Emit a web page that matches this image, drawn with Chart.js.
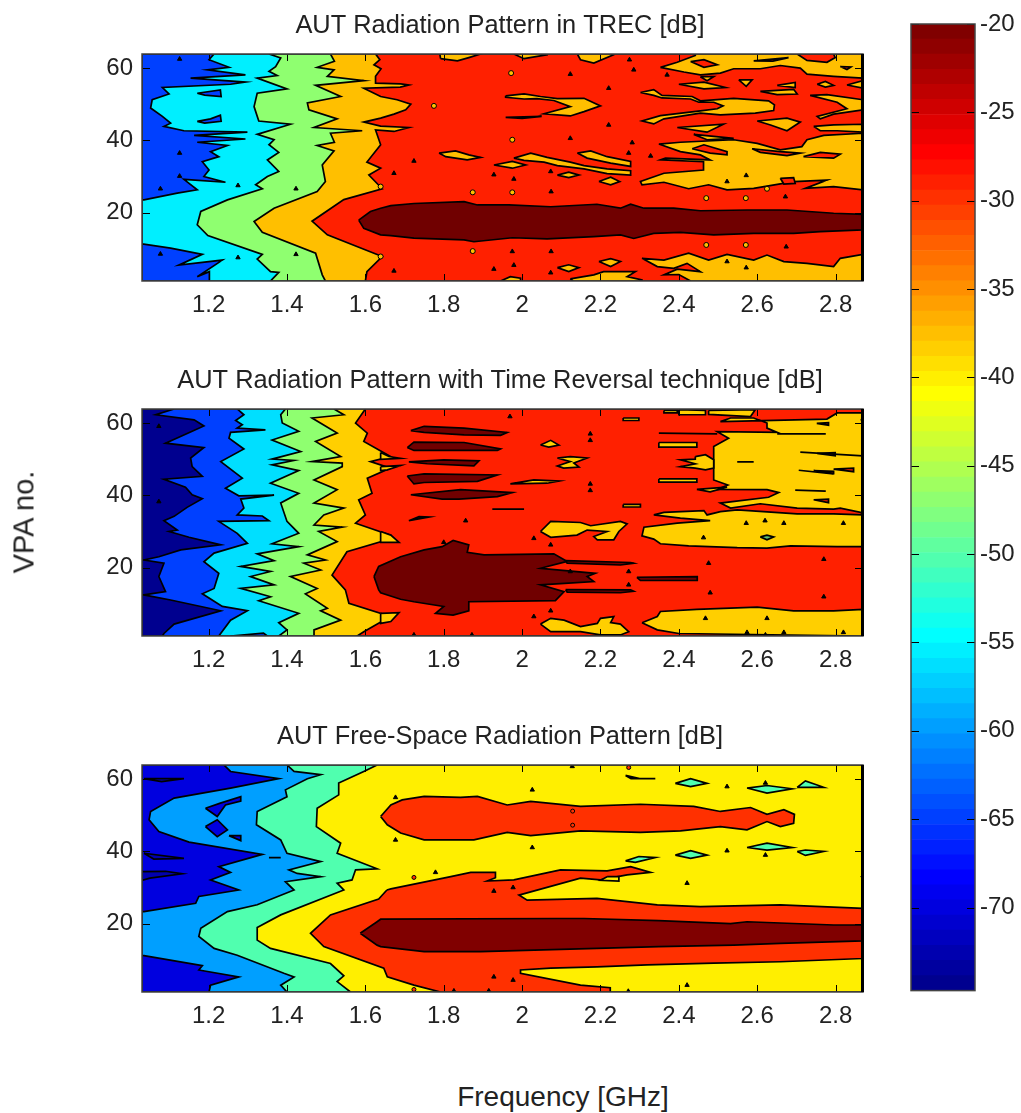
<!DOCTYPE html>
<html>
<head>
<meta charset="utf-8">
<script src="https://cdn.jsdelivr.net/npm/chart.js@4/dist/chart.umd.min.js"></script>
<style>
html,body{margin:0;padding:0;background:#fff;width:1021px;height:1113px;overflow:hidden;}
canvas{position:absolute;}
.lab{position:absolute;font-family:"Liberation Sans",Arial,sans-serif;color:#222;white-space:nowrap;}
</style>
</head>
<body>
<canvas id="c1" style="left:0;top:0"></canvas>
<canvas id="c2" style="left:0;top:355px"></canvas>
<canvas id="c3" style="left:0;top:711px"></canvas>
<canvas id="cbar" style="left:880px;top:0"></canvas>
<div class="lab" style="left:24px;top:522px;font-size:29px;transform:translate(-50%,-50%) rotate(-90deg)">VPA no.</div>
<div class="lab" style="left:563px;top:1097px;font-size:28px;transform:translate(-50%,-50%)">Frequency [GHz]</div>
<script>
var xMin = 1.03, xMax = 2.87, yMin = 1, yMax = 64;
var freqTicks = [1.2,1.4,1.6,1.8,2,2.2,2.4,2.6,2.8];
var vpaTicks = [20,40,60];
var cbarTicks = [-20,-25,-30,-35,-40,-45,-50,-55,-60,-65,-70];
var fullBox = [[1.03,1],[2.87,1],[2.87,64],[1.03,64]];

// colorbar
var cbarLevels = [-74.7,-73.85,-72.99,-72.14,-71.28,-70.43,-69.57,-68.72,-67.86,-67.01,-66.15,-65.3,-64.44,-63.59,-62.73,-61.88,-61.02,-60.17,-59.31,-58.46,-57.6,-56.75,-55.9,-55.04,-54.19,-53.33,-52.48,-51.62,-50.77,-49.91,-49.06,-48.2,-47.35,-46.49,-45.64,-44.78,-43.93,-43.07,-42.22,-41.36,-40.51,-39.65,-38.8,-37.95,-37.09,-36.24,-35.38,-34.53,-33.67,-32.82,-31.96,-31.11,-30.25,-29.4,-28.54,-27.69,-26.83,-25.98,-25.12,-24.27,-23.41,-22.56,-21.7,-20.85,-20];
var jetColors = ["#00008f","#00009f","#0000af","#0000bf","#0000cf","#0000df","#0000ef","#0000ff","#0010ff","#0020ff","#0030ff","#0040ff","#0050ff","#0060ff","#0070ff","#0080ff","#008fff","#009fff","#00afff","#00bfff","#00cfff","#00dfff","#00efff","#00ffff","#10ffef","#20ffdf","#30ffcf","#40ffbf","#50ffaf","#60ff9f","#70ff8f","#80ff80","#8fff70","#9fff60","#afff50","#bfff40","#cfff30","#dfff20","#efff10","#ffff00","#ffef00","#ffdf00","#ffcf00","#ffbf00","#ffaf00","#ff9f00","#ff8f00","#ff8000","#ff7000","#ff6000","#ff5000","#ff4000","#ff3000","#ff2000","#ff1000","#ff0000","#ef0000","#df0000","#cf0000","#bf0000","#af0000","#9f0000","#8f0000","#800000"];

// panel 1, contour edges read from top (VPA 64) to bottom (VPA 1)
var trecEdge1 = [[1.214,64],[1.201,62.4],[1.252,60.3],[1.197,59.6],[1.294,58.2],[1.154,57.3],[1.294,56.2],[1.256,55.6],[1.082,54.7],[1.099,52.9],[1.056,51.3],[1.052,49],[1.082,46.7],[1.103,44.8],[1.086,43.9],[1.137,42.7],[1.299,42.3],[1.163,41.4],[1.294,40.4],[1.171,39.5],[1.248,38.6],[1.205,36.9],[1.226,35.5],[1.184,34.1],[1.201,31.8],[1.188,30],[1.243,28.4],[1.137,29.2],[1.171,26.3],[1.12,25.4],[1.035,23.5],[1.03,23.5],[1.03,11.3],[1.103,10.1],[1.184,8.4],[1.124,5.4],[1.235,6.8],[1.171,2.2],[1.202,3.6],[1.202,1]];
var trecEdge2 = [[1.354,64],[1.384,62.9],[1.371,60.5],[1.354,59.2],[1.375,58],[1.324,57.3],[1.4,54.3],[1.324,53.1],[1.316,49.4],[1.328,45.4],[1.409,44.5],[1.324,41.7],[1.367,40.2],[1.354,38.8],[1.379,36.7],[1.35,34.6],[1.379,31.4],[1.35,30],[1.32,27.7],[1.337,26.6],[1.248,23.5],[1.18,20.3],[1.171,16.6],[1.198,13.6],[1.337,8.4],[1.324,7.1],[1.358,3.6],[1.379,3.4],[1.358,1]];
var trecEdge3 = [[1.511,64],[1.521,62],[1.477,60.3],[1.52,59.6],[1.503,57.8],[1.596,56.6],[1.473,55.3],[1.537,52.2],[1.452,50.4],[1.456,48.5],[1.528,46],[1.469,43.6],[1.592,42.7],[1.511,42],[1.521,39.5],[1.477,38.6],[1.52,37.1],[1.49,33.2],[1.498,28.6],[1.477,25.8],[1.367,21.2],[1.316,17.5],[1.337,14.5],[1.473,8.7],[1.49,2.7],[1.498,1]];
var trecEdge4 = [[1.626,64],[1.637,62.4],[1.622,61],[1.64,59.9],[1.626,57.8],[1.626,55.9],[1.69,55.7],[1.711,55.4],[1.689,54.8],[1.596,54.5],[1.639,52.2],[1.681,51.3],[1.716,50.1],[1.703,48.5],[1.673,47.3],[1.639,46.2],[1.596,45.1],[1.639,44],[1.711,43.6],[1.673,42.5],[1.626,42.9],[1.639,38.8],[1.604,34],[1.639,32.3],[1.609,30.4],[1.643,26.6],[1.545,23.6],[1.464,17.6],[1.503,13.8],[1.643,7.8],[1.604,3.6],[1.6,1]];
var trecBlue1 = [[1.171,53.1],[1.23,54],[1.232,52.2],[1.19,52.6]];
var trecBlue2 = [[1.171,45.3],[1.205,46],[1.23,47],[1.232,45.3],[1.19,44.8]];
var trecAmberTop1 = [[1.792,62.7],[1.835,62.1],[1.864,63],[1.894,64],[1.79,64]];
var trecAmberTop2 = [[1.979,64],[2.005,62.7],[2.064,63.8],[2.064,64]];
var trecAmberTop3 = [[2.141,64],[2.149,62.4],[2.183,61.5],[2.234,63.8],[2.234,64]];
var trecChevron = [[1.958,52.4],[2.005,52.9],[2.047,52.2],[2.09,51.6],[2.158,51.7],[2.2,49.6],[2.158,48],[2.123,46.8],[2.056,47.4],[2.123,49.4],[2.081,51.1],[2.038,51.6],[2.005,51.5],[1.958,52]];
var trecSliver1 = [[1.958,46.4],[2.05,46.7],[2,46.1]];
var trecIsle1 = [[1.788,36.5],[1.83,37.1],[1.864,36],[1.894,35.3],[1.86,34.6],[1.805,35.5]];
var trecIsle2 = [[1.928,33.2],[1.975,34.2],[2.009,33.2],[1.975,32.3]];
var trecStreak1 = [[1.979,35.1],[2.022,36.5],[2.064,35.3],[2.123,34],[2.158,33],[2.217,32.1],[2.277,31.6],[2.277,30.4],[2.217,30.8],[2.158,32.1],[2.09,33],[2.056,34],[2.005,34.5]];
var trecStreak2 = [[2.141,36.5],[2.175,37.1],[2.217,35.5],[2.277,34.2],[2.277,32.8],[2.226,33.7],[2.166,35.1]];
var trecIsle3 = [[2.09,30.4],[2.119,31.2],[2.145,30.4],[2.119,29.7]];
var trecIsle4 = [[2.196,28.6],[2.226,29.8],[2.249,28.6],[2.226,27.7]];
var trecIsle5 = [[2.09,4.7],[2.119,5.5],[2.145,4.7],[2.119,3.6]];
var trecIsle6 = [[2.196,6.4],[2.226,7.2],[2.251,6.4],[2.226,5]];
var trecIsle7 = [[1.945,1],[1.97,2.2],[1.996,1.8],[1.996,1]];
var trecBottomLeft = [[2.123,1.6],[2.183,2.7],[2.208,3.6],[2.289,3.6],[2.268,2.2],[2.306,1.3],[2.306,1],[2.13,1]];
var trecTop = [[2.353,60.3],[2.396,61.7],[2.442,63.6],[2.442,64],[2.87,64],[2.87,57.3],[2.795,57.8],[2.727,58.4],[2.71,60.1],[2.659,60.8],[2.608,59.9],[2.54,59.9],[2.506,58.7],[2.455,58.2],[2.413,59]];
var trecHole1 = [[2.702,64],[2.727,62.2],[2.778,61.7],[2.799,63],[2.795,64]];
var trecHole2 = [[2.43,61.9],[2.464,62.4],[2.498,61],[2.464,60.3]];
var trecHole3 = [[2.812,60.5],[2.839,60.4],[2.829,59.7]];
var trecHole4 = [[2.591,62.1],[2.68,63],[2.64,62]];
var trecStrip1 = [[2.4,55.6],[2.464,56.2],[2.519,54.7],[2.464,54.3]];
var trecStrip2 = [[2.455,57.7],[2.489,57.7],[2.472,56.6]];
var trecStrip3 = [[2.553,56.8],[2.587,56.8],[2.572,55]];
var trecStrip4 = [[2.651,55.3],[2.697,56.1],[2.697,54.7]];
var trecStrip5 = [[2.608,53.6],[2.693,54.2],[2.702,52.9],[2.651,52.7]];
var trecStrip6 = [[2.753,55.6],[2.774,56.4],[2.795,55.3],[2.774,54.8]];
var trecStrip7 = [[2.829,55.4],[2.87,56.6],[2.87,54.5]];
var trecArm = [[2.302,53.3],[2.336,54.1],[2.357,52.5],[2.434,52.2],[2.455,51],[2.54,51.7],[2.629,51],[2.644,49.9],[2.642,48.3],[2.595,47.6],[2.506,47.1],[2.455,47.6],[2.362,46],[2.336,44.6],[2.306,45.4],[2.353,46.9],[2.455,48.2],[2.498,48.8],[2.513,49.6],[2.489,50.6],[2.451,50.6],[2.43,51.5],[2.357,51.8],[2.336,52.5]];
var trecRight = [[2.735,52.5],[2.778,52.7],[2.87,51.3],[2.87,48.5],[2.795,47.3],[2.761,46],[2.753,46.7],[2.829,48.8],[2.804,50.6]];
var trecIsle8 = [[2.6,45.4],[2.676,46.2],[2.71,45.1],[2.676,42.7],[2.634,44.3]];
var trecIsle9 = [[2.744,43.9],[2.795,44.3],[2.87,44.5],[2.87,42.3],[2.804,42.7],[2.761,42.7]];
var trecIsle10 = [[2.396,43.6],[2.514,44.5],[2.472,42.3]];
var trecIsle11 = [[2.438,41.7],[2.54,40.6],[2.472,40.2]];
var trecMass = [[2.349,39],[2.404,39.5],[2.54,40.2],[2.6,39.2],[2.659,37.4],[2.714,38.3],[2.727,40.2],[2.77,41.4],[2.87,42],[2.87,26.3],[2.795,27.2],[2.723,26.7],[2.778,29],[2.693,28.6],[2.591,26.7],[2.523,26.3],[2.476,27.7],[2.425,26.6],[2.362,28.4],[2.306,27.7],[2.302,28.6],[2.362,30.9],[2.463,31.8],[2.463,34.1],[2.353,34.6],[2.366,35.1],[2.48,34.6],[2.455,36],[2.404,36.9]];
var trecHole5 = [[2.434,37.7],[2.464,38.8],[2.523,36.9],[2.523,36],[2.48,36.5]];
var trecHole6 = [[2.587,37.7],[2.659,36.9],[2.71,36.5],[2.676,35.8],[2.608,36.7]];
var trecHole7 = [[2.718,35.5],[2.761,36.7],[2.812,36.2],[2.795,35.1]];
var trecHole8 = [[2.659,29.5],[2.693,29.7],[2.697,28.1],[2.668,27.9]];
var trecBand = [[2.306,7.3],[2.362,6.8],[2.425,8.7],[2.476,6.8],[2.523,8.4],[2.591,6.8],[2.625,8.2],[2.668,6.4],[2.727,5.9],[2.795,5],[2.812,7.3],[2.87,8.4],[2.87,1],[2.43,1],[2.4,2.8],[2.362,2.7],[2.396,4.3],[2.455,3.6],[2.421,5.9],[2.387,4.5],[2.345,5]];
var trecDark = [[1.583,17.9],[1.613,20.3],[1.639,21.2],[1.665,21.9],[1.724,22.5],[1.852,23],[1.886,22.1],[1.966,22.1],[2.073,21.6],[2.191,22.3],[2.251,21.2],[2.277,22.3],[2.311,21.2],[2.387,21.2],[2.455,20.5],[2.574,20.7],[2.676,20.7],[2.795,19.8],[2.87,19.5],[2.87,15.2],[2.761,14.7],[2.693,14.2],[2.591,14.2],[2.489,13.8],[2.404,14.5],[2.336,14.2],[2.285,12.8],[2.251,13.8],[2.183,13.3],[2.064,12.7],[1.975,13],[1.877,11.9],[1.852,12.4],[1.724,12.9],[1.665,13.6],[1.639,13.8],[1.596,15.6]];
var trecDots = [[1.972,58.7],[1.775,49.6],[1.975,40.2],[1.874,25.6],[1.975,25.6],[1.874,9.3],[2.47,24],[2.571,24],[2.47,11],[2.571,11],[2.625,26.6],[1.639,27.2],[1.639,7.8]];
var trecSpecks = [[2.123,58.4],[2.221,44.3],[2.123,40.6],[2.074,25.8],[1.975,9.2],[2.074,9.2],[2.221,54.5],[1.724,34.3],[1.979,29.3],[1.928,30.5],[1.928,4.3],[1.979,5.4],[1.673,30.9],[1.673,3.8],[2.073,31.4],[2.073,3.3],[2.274,62.4],[2.285,59.6],[2.37,58.2],[2.672,24.4],[2.674,10.5],[2.523,28.6],[2.572,30.3],[2.523,6.4],[2.572,4.7],[2.281,39.4],[2.328,35.7],[2.272,36.5],[1.077,26.6],[1.077,8.5],[1.126,62.6],[1.126,36.5],[1.126,30.1],[1.275,27.5],[1.275,7.5],[1.423,26.6],[1.423,8.4]];

// panel 2
var trEdge1 = [[1.112,64],[1.065,62.4],[1.163,61],[1.188,59.3],[1.158,57.8],[1.09,54.5],[1.188,53.3],[1.154,50.4],[1.158,48],[1.184,45.3],[1.086,44.5],[1.141,42.3],[1.158,40.2],[1.184,39.1],[1.145,36.7],[1.112,34.2],[1.086,33],[1.12,30.4],[1.099,30],[1.15,28.4],[1.231,26.3],[1.129,24.9],[1.073,23],[1.035,22.1],[1.086,21.2],[1.073,17.5],[1.09,13.3],[1.035,12.4],[1.103,11],[1.231,8],[1.112,4.3],[1.086,1.7],[1.082,1]];
var trEdge2 = [[1.273,64],[1.29,62.4],[1.269,60.8],[1.286,59.6],[1.273,58.7],[1.345,58.2],[1.256,57.5],[1.252,55.9],[1.29,52.9],[1.231,49.4],[1.286,44.8],[1.243,42],[1.277,39.9],[1.367,40.1],[1.282,39],[1.29,36.5],[1.273,34.6],[1.337,34.3],[1.354,33],[1.226,32.8],[1.273,29.5],[1.299,26.7],[1.214,24],[1.188,21.6],[1.226,18.4],[1.214,14.2],[1.184,12.7],[1.235,9.2],[1.299,8],[1.256,5.4],[1.226,1]];
var trEdge3 = [[1.396,64],[1.384,62.4],[1.388,60.1],[1.43,57.8],[1.362,55.4],[1.435,52.2],[1.362,50.1],[1.417,49.7],[1.362,48.5],[1.43,46.9],[1.358,43.4],[1.43,40.6],[1.384,37.9],[1.4,32.8],[1.43,29.5],[1.362,26.6],[1.43,25.8],[1.324,23.8],[1.367,21.9],[1.282,20.3],[1.358,18.9],[1.307,17.5],[1.367,15.2],[1.282,14.2],[1.358,11.9],[1.328,10.8],[1.43,7.3],[1.379,4.7],[1.4,2.7],[1.379,1]];
var trEdge4 = [[1.52,64],[1.545,62.4],[1.464,61.5],[1.528,57.3],[1.473,55],[1.537,50.8],[1.464,49.4],[1.541,49],[1.541,48],[1.469,44.3],[1.528,41.6],[1.469,37.9],[1.545,36.5],[1.494,34.6],[1.469,31.8],[1.541,31.2],[1.481,30],[1.528,27.2],[1.452,23.5],[1.498,22.1],[1.443,21.2],[1.486,19.3],[1.409,17.5],[1.477,14.2],[1.447,12.7],[1.503,8.7],[1.486,8],[1.537,5.4],[1.469,2.7],[1.469,1]];
var trEdge5 = [[1.6,64],[1.575,60.1],[1.605,57.3],[1.596,55],[1.664,50.8],[1.613,49.4],[1.664,47.6],[1.605,44.8],[1.617,40.6],[1.583,38.8],[1.6,34.6],[1.575,32.3],[1.664,29],[1.656,27.7],[1.553,24.4],[1.515,17.9],[1.549,13.8],[1.558,10.1],[1.664,6.4],[1.596,2.2],[1.579,1]];
var trBlueSliver = [[1.256,1],[1.34,1.8],[1.35,1]];
var trDarkCore = [[1.622,17.5],[1.634,20.3],[1.69,23],[1.75,24.9],[1.796,25.8],[1.824,27.5],[1.864,26.3],[1.86,24.2],[1.903,23.5],[2.081,23.8],[2.115,21.7],[2.047,19.8],[2.187,18.4],[2.166,17.5],[2.183,16.1],[2.047,15.2],[2.107,13.3],[2.085,10.8],[1.864,10.5],[1.864,8],[1.824,6.8],[1.779,7.3],[1.8,9.2],[1.724,10.5],[1.69,11.2],[1.639,13],[1.634,13.8]];
var trBar1 = [[1.716,58],[1.75,59.2],[1.852,58.7],[1.962,57.5],[1.945,56.7],[1.852,56.8],[1.75,57.5]];
var trBar2 = [[1.707,53.3],[1.724,54.8],[1.852,54.7],[1.945,52.9],[1.937,52.5],[1.724,52.5]];
var trBar3 = [[1.711,49.3],[1.8,49.9],[1.89,49.6],[1.877,48.2],[1.758,48.8]];
var trBar4 = [[1.707,45.4],[1.75,46],[1.937,45.7],[1.886,43.9],[1.75,43.6],[1.724,43.2]];
var trBar5 = [[1.716,40.2],[1.843,41.6],[1.975,40.8],[1.937,39.7],[1.839,39],[1.796,39]];
var trBar6 = [[1.711,33],[1.737,34.1],[1.762,34]];
var trBar7 = [[2.293,17.3],[2.447,17.5],[2.447,16.4],[2.302,16.4]];
var trStreak1 = [[2.111,21.9],[2.277,21.4],[2.285,21.2],[2.251,20.7],[2.115,21.2]];
var trStreak2 = [[2.111,13.9],[2.277,13.8],[2.285,13.4],[2.251,13],[2.115,13.2]];
var trAmber1 = [[1.639,51.9],[1.66,50.8],[1.69,50.3],[1.639,50]];
var trAmber2 = [[1.639,48],[1.69,48.3],[1.656,47.1],[1.639,46.9]];
var trAmber3 = [[2.047,54],[2.073,55.3],[2.094,54],[2.068,53.4]];
var trAmber4 = [[2.09,50.4],[2.123,50.8],[2.166,50.4],[2.132,49],[2.145,47.9],[2.106,47.6],[2.09,48.2],[2.123,49.4]];
var trAmber5 = [[1.97,43.2],[2.03,44.3],[2.094,44],[2.064,43.4]];
var trAmber6 = [[2.047,30],[2.073,32.8],[2.149,32.5],[2.175,31.6],[2.251,32.8],[2.268,32.1],[2.247,30],[2.234,27.7],[2.192,27.7],[2.183,28.6],[2.217,30],[2.166,30.4],[2.14,29],[2.073,28.4]];
var trAmber7 = [[1.639,30],[1.665,29],[1.686,27],[1.639,27]];
var trAmber8 = [[1.639,7.3],[1.686,7.5],[1.665,5],[1.639,4.5]];
var trAmber9 = [[2.047,4.3],[2.073,5.9],[2.107,5.4],[2.149,3.6],[2.192,4.5],[2.2,5.9],[2.234,6.4],[2.226,4.7],[2.251,4.3],[2.272,2.2],[2.251,1.3],[2.2,1.3],[2.149,2.2],[2.073,2.2]];
var trUpper = [[2.506,60.5],[2.532,61.5],[2.591,61.5],[2.625,60.1],[2.625,58.7],[2.651,57.5],[2.498,57.7],[2.527,55.9],[2.489,53.6],[2.489,44.3],[2.525,42.9],[2.498,41.7],[2.625,41.6],[2.655,40.8],[2.629,39.5],[2.506,37.9],[2.532,36.5],[2.608,37.7],[2.702,36.5],[2.795,36.2],[2.812,36.5],[2.87,35.2],[2.87,62.9],[2.804,62.9],[2.778,61.2]];
var trLower = [[2.336,34.6],[2.362,35.3],[2.464,35.8],[2.472,34.6],[2.506,35.5],[2.549,36],[2.702,34.9],[2.795,34.9],[2.87,34.6],[2.87,25.8],[2.804,25.8],[2.685,26],[2.625,25.4],[2.549,25.5],[2.425,26],[2.353,26.6],[2.336,27.9],[2.306,28.8],[2.311,31.2],[2.396,32.3],[2.48,33],[2.404,33.7]];
var trBottom = [[2.306,4.7],[2.345,6.4],[2.353,7.8],[2.446,8.4],[2.6,9],[2.693,8],[2.795,8],[2.87,8.4],[2.87,1],[2.4,1.7],[2.345,2.7]];
var trTop1 = [[2.362,63.6],[2.396,63.6],[2.396,62.9],[2.362,62.9]];
var trTop2 = [[2.4,63.8],[2.468,63.6],[2.468,62.4],[2.4,62.4]];
var trTop3 = [[2.476,63.6],[2.595,63.8],[2.583,61.9],[2.476,62.5]];
var trStrip1 = [[2.258,61.5],[2.298,61.5],[2.298,60.8],[2.258,60.8]];
var trStrip2 = [[2.349,54.7],[2.446,54.7],[2.446,53.4],[2.349,53.4]];
var trCluster = [[2.442,50.8],[2.468,51.3],[2.489,49.9],[2.489,47.6],[2.468,47.1],[2.442,47.6],[2.404,48],[2.442,48.8],[2.404,49.9],[2.442,50.1]];
var trStrip3 = [[2.349,44.6],[2.446,44.6],[2.446,43.7],[2.349,43.7]];
var trStrip4 = [[2.446,41.7],[2.523,42.3],[2.48,41]];
var trStrip5 = [[2.258,37.5],[2.302,37.5],[2.302,36.8],[2.258,36.8]];
var trRed1 = [[2.753,51.7],[2.799,51.9],[2.799,51]];
var trRed2 = [[2.744,46.9],[2.795,46.7],[2.795,46.1]];
var trRed3 = [[2.795,47.3],[2.846,47.6],[2.846,46.6]];
var trRed4 = [[2.752,60],[2.782,60.2],[2.782,59.5]];
var trRed5 = [[2.744,38.8],[2.782,39],[2.782,38]];
var trLine1 = [[2.349,57.3],[2.498,57.1]];
var trLine2 = [[2.651,57.1],[2.775,57.1]];
var trLine3 = [[2.71,52],[2.87,51]];
var trLine4 = [[2.706,47],[2.795,46]];
var trLine5 = [[2.549,49.3],[2.591,49.3]];
var trLine6 = [[2.697,41.5],[2.775,41.2]];
var trLine7 = [[1.924,36.2],[2.005,36.2]];
var trGreen = [[2.608,28.5],[2.625,29],[2.642,28.5],[2.625,27.7]];
var trDots = [[2.87,61],[2.87,34.8]];
var trSpecks = [[2.272,18.9],[2.272,15.2],[2.476,21.2],[2.48,13],[2.77,22.3],[2.77,11.9],[2.468,5.9],[2.625,5.9],[2.574,2],[2.668,2],[2.82,2],[2.621,1.3],[1.969,61.9],[2.174,57.1],[2.174,55.3],[2.174,43.2],[2.174,41.4],[2.073,26.3],[2.073,8],[2.03,28.1],[2.03,6.4],[1.724,1.3],[1.872,1.3],[2.123,18.9],[1.856,33],[1.073,59.2],[1.073,38.3],[2.463,28.3],[2.572,32.3],[2.62,33],[2.668,32.3],[2.82,32.3],[1.8,27]];

// panel 3
var fsEdge1 = [[1.239,64],[1.256,62.2],[1.379,60.2],[1.256,57.6],[1.112,54.8],[1.052,51.1],[1.048,48.8],[1.073,45.5],[1.15,42.6],[1.337,39.2],[1.226,35.8],[1.256,34.2],[1.205,32.1],[1.277,29.3],[1.175,27.5],[1.167,25.6],[1.035,23.3],[1.03,23.3],[1.03,11.2],[1.035,11.1],[1.184,8.3],[1.175,7.1],[1.277,5.2],[1.205,2.9],[1.201,1]];
var fsEdge2 = [[1.4,64],[1.418,62.2],[1.486,61.3],[1.452,60.2],[1.396,57.1],[1.4,55.2],[1.324,51.1],[1.322,47.4],[1.384,43.2],[1.4,39.5],[1.486,37.2],[1.405,34.9],[1.426,33.9],[1.486,33],[1.396,31.6],[1.418,29.3],[1.324,25.2],[1.248,23.3],[1.18,18.7],[1.175,16.4],[1.214,13.1],[1.273,11.2],[1.392,6.2],[1.418,5.2],[1.384,2.9],[1.4,1]];
var fsEdge3 = [[1.63,64],[1.596,62.2],[1.532,59],[1.532,55.7],[1.477,52],[1.475,46.9],[1.537,42.3],[1.528,39.5],[1.63,35.2],[1.575,34.9],[1.566,32.1],[1.528,31.2],[1.545,29.3],[1.384,22.4],[1.324,18.9],[1.324,15.4],[1.358,13.1],[1.511,8.9],[1.545,5.5],[1.528,3.9],[1.562,1]];
var fsNavy = [[1.03,34.4],[1.09,34.5],[1.133,33.8],[1.05,32.6],[1.03,32]];
var fsSliver1 = [[1.035,39.5],[1.137,38.1],[1.06,37.9]];
var fsSliver2 = [[1.035,60.2],[1.137,60.2],[1.08,59.4]];
var fsLine1 = [[1.354,38.3],[1.384,38.3]];
var fsBlue1 = [[1.192,52],[1.23,53.4],[1.282,55.2],[1.282,54],[1.243,52.9],[1.222,49.7]];
var fsBlue2 = [[1.192,46.9],[1.222,48.8],[1.248,46],[1.222,44.1]];
var fsBlue3 = [[1.252,44.4],[1.282,44.4],[1.282,43]];
var fsLower = [[1.655,29.3],[1.634,26.8],[1.511,22.4],[1.46,17.3],[1.494,13.6],[1.647,7.6],[1.656,5.2],[1.724,2.9],[1.792,1],[2.225,1],[2.225,2.2],[2.149,2.9],[1.996,6.2],[1.996,7.1],[2.073,7.6],[2.191,8],[2.319,8.5],[2.489,9],[2.659,9.4],[2.87,10.3],[2.87,24.2],[2.659,25.2],[2.455,24.7],[2.345,25.2],[2.191,27],[2.013,26.5],[1.992,27.9],[2.149,32.6],[2.2,32.1],[2.268,33.5],[2.328,34.2],[2.277,35.8],[2.217,34.6],[2.098,34.9],[1.979,32.1],[1.911,31.8],[1.932,32.7],[1.932,34.2],[1.869,34.2],[1.818,33],[1.665,29.6]];
var fsUpper = [[1.639,49.7],[1.665,52.9],[1.694,54.3],[1.75,55.3],[1.843,55],[1.886,55.3],[1.962,52.9],[2.022,53.9],[2.149,52.5],[2.302,53.1],[2.438,52.5],[2.506,51.1],[2.583,52.2],[2.625,50.3],[2.668,51.6],[2.695,50.3],[2.693,47.8],[2.659,46.9],[2.625,48.3],[2.574,46],[2.506,46.9],[2.404,45.7],[2.302,45.3],[2.149,45.7],[2.022,44.4],[1.962,45.3],[1.877,43.2],[1.75,43.2],[1.69,45.1],[1.656,47.4]];
var fsHole = [[2.217,33],[2.247,33],[2.247,31.8],[2.2,32]];
var fsDark = [[1.587,17.3],[1.63,20.5],[1.639,21.2],[2.09,21.4],[2.158,21.4],[2.349,20.8],[2.532,20],[2.574,20.5],[2.795,19.6],[2.87,19.6],[2.87,15.2],[2.659,14.5],[2.54,14],[2.349,13.6],[2.191,13.1],[1.894,12.2],[1.75,12.2],[1.639,13.6],[1.63,14]];
var fsAqua1 = [[2.391,58.9],[2.43,60.2],[2.472,58.9],[2.43,58]];
var fsAqua2 = [[2.574,57.6],[2.625,58.3],[2.689,57.4],[2.625,56.2]];
var fsAqua3 = [[2.702,57.8],[2.723,59.6],[2.77,57.8]];
var fsAqua4 = [[2.391,39],[2.43,40.2],[2.472,39],[2.43,38.1]];
var fsAqua5 = [[2.574,41.1],[2.625,42.3],[2.689,41.1],[2.625,40.4]];
var fsAqua6 = [[2.702,40],[2.723,40.4],[2.77,40],[2.723,38.9]];
var fsAqua7 = [[2.264,37.4],[2.298,38.6],[2.34,38.3],[2.289,37]];
var fsAqua8 = [[2.264,61.1],[2.3,60.2],[2.34,60.2],[2.278,60.2]];
var fsRedDots = [[1.724,32.8],[2.272,63.3],[1.724,1.7],[2.129,51.2],[2.129,47.3]];
var fsSpecks = [[2.523,58],[2.621,59],[2.523,40.2],[2.621,39],[2.026,57.1],[2.026,41.1],[1.677,55],[1.677,43.2],[2.421,31.2],[2.421,2.9],[1.928,29],[1.977,30],[1.928,5.2],[1.977,4.3],[1.779,34.2],[2.128,63.6],[1.826,1.3],[1.915,1.3],[2.271,1.2],[2.87,60.2],[2.87,33.3]];

function rightOf(edge){ return edge.concat([[xMax,yMin],[xMax,yMax]]); }
function toPoints(poly){ return poly.concat([poly[0]]).map(function(p){ return {x:p[0],y:p[1]}; }); }

function polyData(layers){
    var out = [];
    layers.forEach(function(l){
        l[1].forEach(function(poly){
            out.push({data:toPoints(poly),showLine:true,fill:'shape',backgroundColor:l[0],borderColor:'#000',borderWidth:1.7,pointRadius:0});
        });
    });
    return out;
}
function dotData(points,color,r,style){
    return {data:points.map(function(p){ return {x:p[0],y:p[1]}; }),showLine:false,pointRadius:r,pointStyle:style,backgroundColor:color,borderColor:'#000',borderWidth:1};
}

var inwardTicks = {
    id:'inwardTicks',
    afterDatasetsDraw:function(chart){
        var a = chart.chartArea, c = chart.ctx;
        c.save();
        c.strokeStyle = '#000'; c.lineWidth = 1;
        c.beginPath();
        if(chart.scales.x.options.display){
            chart.scales.x.ticks.forEach(function(t){
                var px = Math.round(chart.scales.x.getPixelForValue(t.value))+0.5;
                c.moveTo(px,a.bottom); c.lineTo(px,a.bottom-7);
                c.moveTo(px,a.top); c.lineTo(px,a.top+7);
            });
        }
        chart.scales.y.ticks.forEach(function(t){
            var py = Math.round(chart.scales.y.getPixelForValue(t.value))+0.5;
            c.moveTo(a.left,py); c.lineTo(a.left+8,py);
            c.moveTo(a.right,py); c.lineTo(a.right-8,py);
        });
        c.stroke();
        c.strokeStyle = '#444'; c.lineWidth = 1.5;
        c.strokeRect(a.left,a.top,a.right-a.left,a.bottom-a.top);
        // contour lines pile up on the right border of the panels
        if(chart.scales.x.options.display){
            c.strokeStyle = '#000'; c.lineWidth = 3;
            c.beginPath(); c.moveTo(a.right-0.5,a.top); c.lineTo(a.right-0.5,a.bottom); c.stroke();
        }
        c.restore();
    }
};

var font = {family:'"Liberation Sans",Arial,sans-serif',size:24};
var noGrid = {display:false,drawTicks:false};

function makePanel(id,title,layers,dots){
    var el = document.getElementById(id);
    el.width = 1000; el.height = 321;
    el.style.width = '1000px'; el.style.height = '321px';
    var sets = polyData(layers).concat(dots);
    sets.forEach(function(s,i){ s.order = sets.length-i; });
    return new Chart(el.getContext('2d'),{
        type:'scatter',
        data:{datasets:sets},
        plugins:[inwardTicks],
        options:{
            responsive:false,animation:false,
            elements:{line:{tension:0}},
            plugins:{
                legend:{display:false},tooltip:{enabled:false},
                title:{display:true,text:title,color:'#222',font:{family:font.family,size:25.4,weight:'normal'},padding:{top:11,bottom:12.5}}
            },
            scales:{
                x:{type:'linear',min:xMin,max:xMax,grid:noGrid,border:{display:false},
                    afterBuildTicks:function(s){ s.ticks = freqTicks.map(function(v){ return {value:v}; }); },
                    afterFit:function(s){ s.height = 40; },
                    ticks:{font:font,color:'#222',maxRotation:0,autoSkip:false,padding:10,callback:function(v){ return String(v); }}},
                y:{type:'linear',min:yMin,max:yMax,grid:noGrid,border:{display:false},
                    afterBuildTicks:function(s){ s.ticks = vpaTicks.map(function(v){ return {value:v}; }); },
                    afterFit:function(s){ s.width = 142; },
                    ticks:{font:font,color:'#222',padding:9,callback:function(v){ return String(v); }}},
                // empty axis that holds the space of the colorbar, so the title centres on the whole figure
                pad:{axis:'y',position:'right',grid:noGrid,border:{display:false},ticks:{display:false},
                    afterFit:function(s){ s.width = 137; }}
            }
        }
    });
}

makePanel('c1','AUT Radiation Pattern in TREC [dB]',[
    ['#0040ff',[fullBox]],
    ['#00efff',[rightOf(trecEdge1)]],
    ['#0040ff',[trecBlue1,trecBlue2]],
    ['#8fff70',[rightOf(trecEdge2)]],
    ['#ffbf00',[rightOf(trecEdge3)]],
    ['#ff2000',[rightOf(trecEdge4)]],
    ['#ffbf00',[trecAmberTop1,trecAmberTop2,trecAmberTop3,trecChevron,trecSliver1,trecIsle1,trecIsle2,trecStreak1,trecStreak2,trecIsle3,trecIsle4,trecIsle5,trecIsle6,trecIsle7,trecBottomLeft,trecTop]],
    ['#ff2000',[trecHole1,trecHole2,trecHole3,trecHole4]],
    ['#ffbf00',[trecStrip1,trecStrip2,trecStrip3,trecStrip4,trecStrip5,trecStrip6,trecStrip7,trecArm,trecRight,trecIsle8,trecIsle9,trecIsle10,trecIsle11,trecMass]],
    ['#ff2000',[trecHole5,trecHole6,trecHole7,trecHole8]],
    ['#ffbf00',[trecBand]],
    ['#700000',[trecDark]]
],[dotData(trecDots,'#ffbf00',2.5,'circle'),dotData(trecSpecks,'#000',2.5,'triangle')]);

makePanel('c2','AUT Radiation Pattern with Time Reversal technique [dB]',[
    ['#00008f',[fullBox]],
    ['#0040ff',[rightOf(trEdge1)]],
    ['#00dfff',[rightOf(trEdge2)]],
    ['#0040ff',[trBlueSliver]],
    ['#8fff70',[rightOf(trEdge3)]],
    ['#ffcf00',[rightOf(trEdge4)]],
    ['#ff2000',[rightOf(trEdge5)]],
    ['#700000',[trDarkCore,trBar1,trBar2,trBar3,trBar4,trBar5,trBar6,trBar7,trStreak1,trStreak2]],
    ['#ffcf00',[trAmber1,trAmber2,trAmber3,trAmber4,trAmber5,trAmber6,trAmber7,trAmber8,trAmber9,trUpper,trLower,trBottom,trTop1,trTop2,trTop3,trStrip1,trStrip2,trCluster,trStrip3,trStrip4,trStrip5]],
    ['#ff2000',[trRed1,trRed2,trRed3,trRed4,trRed5]],
    ['#000',[trLine1,trLine2,trLine3,trLine4,trLine5,trLine6,trLine7]],
    ['#60c070',[trGreen]]
],[dotData(trDots,'#ffcf00',2,'circle'),dotData(trSpecks,'#000',2.5,'triangle')]);

makePanel('c3','AUT Free-Space Radiation Pattern [dB]',[
    ['#0000df',[fullBox]],
    ['#0000af',[fsNavy,fsSliver1,fsSliver2]],
    ['#009fff',[rightOf(fsEdge1)]],
    ['#000',[fsLine1]],
    ['#0000df',[fsBlue1,fsBlue2,fsBlue3]],
    ['#50ffaf',[rightOf(fsEdge2)]],
    ['#ffef00',[rightOf(fsEdge3)]],
    ['#50ffaf',[fsAqua1,fsAqua2,fsAqua3,fsAqua4,fsAqua5,fsAqua6,fsAqua7,fsAqua8]],
    ['#ff3000',[fsLower,fsUpper]],
    ['#ffef00',[fsHole]],
    ['#800000',[fsDark]]
],[dotData(fsRedDots,'#ff3000',2,'circle'),dotData(fsSpecks,'#000',2.5,'triangle')]);

// colorbar, one floating bar per colour step
var cb = document.getElementById('cbar');
cb.width = 141; cb.height = 1010;
cb.style.width = '141px'; cb.style.height = '1010px';
new Chart(cb.getContext('2d'),{
    type:'bar',
    data:{labels:['dB'],datasets:jetColors.map(function(col,i){
        return {data:[[cbarLevels[i],cbarLevels[i+1]]],backgroundColor:col,borderWidth:0,barPercentage:1,categoryPercentage:1,grouped:false};
    })},
    plugins:[inwardTicks],
    options:{
        responsive:false,animation:false,
        layout:{padding:{left:31,top:24,bottom:16}},
        plugins:{legend:{display:false},tooltip:{enabled:false}},
        scales:{
            x:{display:false},
            y:{position:'right',type:'linear',min:-74.7,max:-20,grid:noGrid,border:{display:false},
                afterBuildTicks:function(s){ s.ticks = cbarTicks.map(function(v){ return {value:v}; }); },
                afterFit:function(s){ s.width = 46; },
                ticks:{font:font,color:'#222',padding:5,callback:function(v){ return String(v); }}}
        }
    }
});
</script>
</body>
</html>
